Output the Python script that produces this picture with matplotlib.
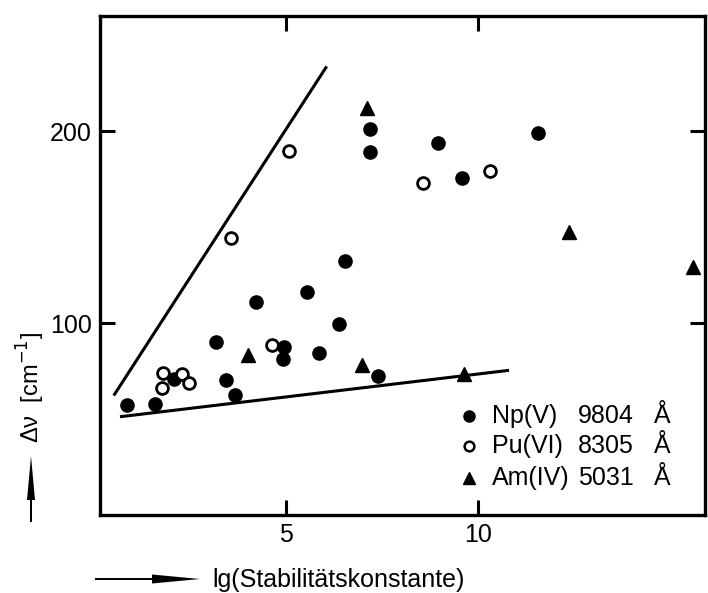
import matplotlib.pyplot as plt
from matplotlib.patches import FancyArrow

plt.rcParams["font.family"] = ["Liberation Sans", "DejaVu Sans"]

# Np(V) 9804 A  (filled circles)
np_x = [0.85, 1.59, 2.08, 3.42, 3.67, 3.18, 4.20, 4.94, 4.92, 5.54,
        5.84, 6.38, 6.52, 7.19, 7.17, 7.39, 8.96, 9.57, 11.56]
np_y = [57.3, 57.8, 70.8, 70.3, 62.7, 90.0, 110.8, 87.3, 81.2, 116.2,
        84.2, 99.6, 132.5, 201.2, 189.1, 72.5, 193.9, 175.7, 199.3]

# Pu(VI) 8305 A  (open circles)
pu_x = [1.79, 1.76, 2.28, 2.47, 4.62, 3.55, 5.07, 8.55, 10.31]
pu_y = [74.2, 66.1, 73.4, 68.6, 88.8, 144.4, 189.6, 173.1, 179.2]

# Am(IV) 5031 A  (triangles)
am_x = [4.01, 6.96, 9.63, 7.09, 12.36, 15.59]
am_y = [83.5, 78.4, 73.4, 212.3, 147.3, 129.2]

# boundary lines
upper_x = [0.53, 6.03]
upper_y = [62.9, 233.1]
lower_x = [0.71, 10.76]
lower_y = [51.3, 75.3]

species = ["Np(V)", "Pu(VI)", "Am(IV)"]
wavelengths = ["9804", "8305", "5031"]

W, H = 708, 593
fig = plt.figure(figsize=(W / 100, H / 100), dpi=100)
ax = fig.add_axes([0.1412, 0.1315, 0.8546, 0.8415])

lw = 2.2
ax.plot(upper_x, upper_y, color="black", lw=lw)
ax.plot(lower_x, lower_y, color="black", lw=lw)

ax.plot(np_x, np_y, "o", color="black", ms=9.5, ls="none")
ax.plot(pu_x, pu_y, "o", mfc="white", mec="black", mew=2.0, ms=8.5, ls="none")
ax.plot(am_x, am_y, "^", color="black", ms=10, ls="none")

ax.set_xlim(0.15, 15.9)
ax.set_ylim(0, 260)
ax.set_xticks([5, 10])
ax.set_yticks([100, 200])
ax.tick_params(direction="in", length=11, width=2.2, top=True, right=True,
               labelsize=18, pad=6)
for s in ax.spines.values():
    s.set_linewidth(2.4)

# legend drawn by hand so the columns line up
legend_rows = [0.198, 0.138, 0.074]
styles = [dict(marker="o", color="black", ms=8),
          dict(marker="o", mfc="white", mec="black", mew=1.8, ms=7),
          dict(marker="^", color="black", ms=8)]
for i in range(3):
    yy = legend_rows[i]
    ax.plot([0.61], [yy], transform=ax.transAxes, ls="none", **styles[i])
    ax.text(0.648, yy, species[i], transform=ax.transAxes, fontsize=18, va="center")
    ax.text(0.79, yy, wavelengths[i], transform=ax.transAxes, fontsize=18, va="center")
    ax.text(0.915, yy, "Å", transform=ax.transAxes, fontsize=18, va="center")

# x label with arrow
fig.text(0.30, 0.022, "lg(Stabilitätskonstante)", fontsize=18, va="center", ha="left")
fig.add_artist(FancyArrow(95 / W, 1 - 579 / H, 105 / W, 0, width=2 / H,
                          head_width=9 / H, head_length=48 / W,
                          length_includes_head=True, transform=fig.transFigure,
                          color="black", lw=0))

# y label with arrow
fig.text(0.043, 0.346, "Δν  [cm$^{-1}$]", fontsize=17, rotation=90,
         va="center", ha="center")
fig.add_artist(FancyArrow(31 / W, 1 - 522 / H, 0, 66 / H, width=2 / W,
                          head_width=8 / W, head_length=44 / H,
                          length_includes_head=True, transform=fig.transFigure,
                          color="black", lw=0))

fig.savefig("out.png", dpi=100)
